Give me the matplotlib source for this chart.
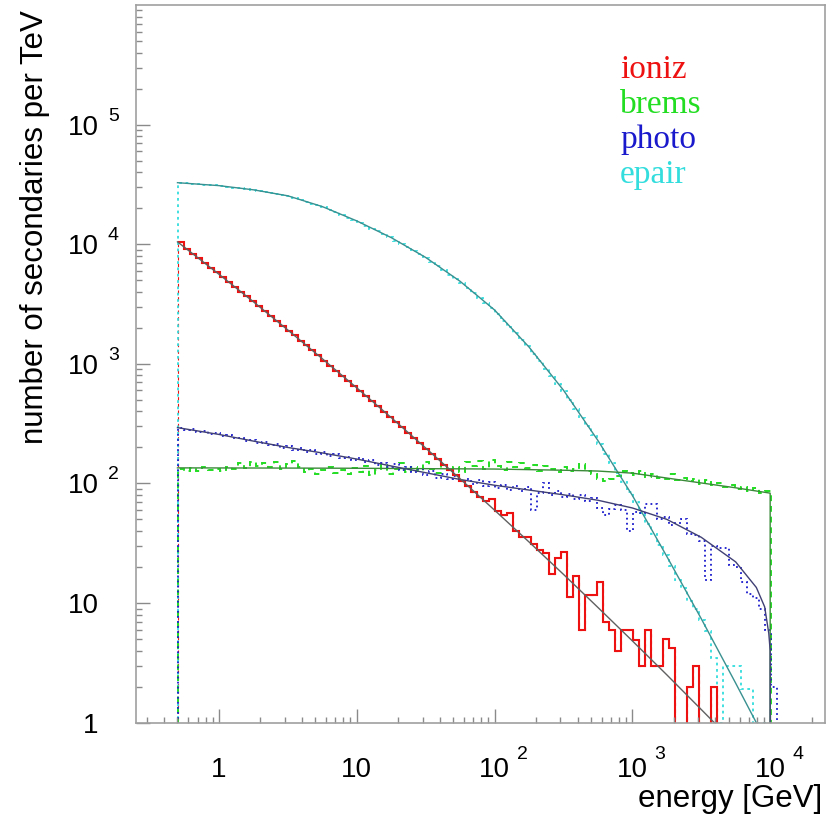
import numpy as np
import matplotlib
matplotlib.use('Agg')
import matplotlib.pyplot as plt
from matplotlib.ticker import FixedLocator, FixedFormatter, LogLocator, NullFormatter

plt.rcParams['font.family'] = ['Liberation Sans', 'DejaVu Sans']

# 100 log bins, 0.5 GeV .. ~11 TeV
bin_edges = np.logspace(-0.30, 4.05, 101)

ioniz = [10500, 9160, 8360, 7650, 6980, 6380, 5810, 5310, 4840, 4420,
         4025, 3670, 3340, 3050, 2770, 2520, 2300, 2090, 1900, 1730,
         1567, 1426, 1294, 1175, 1066, 968, 877, 796, 721, 654,
         592, 537, 485, 440, 397, 360, 325, 294, 266, 240,
         217, 196, 177, 160, 144, 130, 117, 105, 94.9, 85.5,
         76.9, 72, 74, 59, 55, 57, 40, 36, 36, 31,
         28, 26, 17.6, 24, 26.6, 11.2, 17, 5.9, 11.6, 11.6,
         15, 6.9, 5.9, 4.0, 5.9, 5.9, 4.9, 3.0, 5.9, 3.0,
         3.0, 5.0, 4.2, 0, 0, 2.0, 3.0, 0, 0, 2.0,
         0, 0, 0, 0, 0, 0, 0, 0, 0, 0]

brems = [131, 128, 134, 127, 136, 130, 133, 126, 138, 132,
         148, 135, 150, 141, 149, 138, 150, 131, 146, 153,
         137, 124, 133, 121, 129, 136, 122, 130, 119, 134,
         124, 140, 118, 129, 142, 120, 133, 147, 125, 138,
         127, 150, 131, 122, 145, 128, 136, 124, 150, 141,
         155, 133, 158, 140, 129, 152, 137, 148, 134, 143,
         126, 139, 131, 125, 137, 128, 133, 145, 127, 120,
         110, 105, 108, 115, 126, 122, 117, 127, 113, 120,
         112, 108, 119, 106, 111, 104, 110, 99, 106, 97,
         101, 94, 98, 90, 93, 87, 91, 84, 86, 0]

photo = [292, 280, 284, 268, 275, 258, 266, 247, 255, 238,
         240, 226, 233, 218, 222, 208, 215, 198, 206, 192,
         197, 184, 190, 176, 183, 170, 177, 163, 168, 157,
         162, 150, 156, 143, 149, 137, 145, 130, 138, 125,
         131, 118, 126, 112, 121, 108, 116, 104, 109, 99,
         106, 95, 103, 92, 98, 89, 96, 86, 93, 60,
         84, 100, 80, 86, 77, 82, 74, 80, 71, 76,
         62, 55, 61, 66, 60, 40, 58, 57, 68, 68,
         50, 52, 45, 47, 50, 38, 37, 33, 15.5, 30,
         29, 29, 21, 20, 15, 12, 11, 9, 6, 2]

epair = [32600, 32400, 32100, 31800, 31500, 31300, 31000, 30600, 30200, 29800,
         29400, 29000, 28600, 28000, 27500, 26900, 26400, 25900, 25300, 24400,
         23600, 22700, 21900, 21100, 20300, 19300, 18500, 17600, 16700, 16000,
         15100, 14300, 13500, 12800, 12100, 11400, 10700, 10000, 9400, 8790,
         8220, 7690, 7100, 6550, 6040, 5580, 5150, 4730, 4290, 3900,
         3540, 3220, 2920, 2610, 2300, 2040, 1800, 1590, 1400, 1220,
         1050, 912, 789, 684, 589, 499, 421, 356, 301, 254,
         213, 178, 148, 123, 102, 85, 69.7, 56.9, 46.2, 37.8,
         30.8, 25.1, 20.4, 15.5, 13.4, 10.5, 8.85, 7.2, 5.8, 3.5,
         1.0, 3.0, 3.0, 3.0, 1.9, 1.9, 0, 1.0, 0, 0]

# fitted curves
fit_e = [0.5, 1, 1.78, 3.16, 5.62, 10, 17.8, 31.6, 56.2, 100, 178, 316, 562,
         1000, 1780, 3160, 5620, 10000]
fit_epair = [32700, 30900, 28500, 25400, 20650, 15670, 11350, 7760, 4900, 2820,
             1380, 603, 229, 79.4, 24.5, 7.41, 2.14, 0.60]
fit_ioniz = [10470, 5610, 3300, 1919, 1104, 630, 355, 198, 109.5, 59.8,
             32.4, 17.4, 9.2, 4.83, 2.51, 1.29, 0.66, 0.33]

fit_photo_e = [0.5, 1, 1.78, 3.16, 5.62, 10, 17.8, 31.6, 56.2, 100, 178, 316, 562,
               1000, 1780, 3160, 5620, 7940, 9120, 9770, 10000, 10000]
fit_photo = [293, 257, 226, 200, 180, 160, 140, 123, 108, 96.6, 88.1, 80.4, 72.4,
             62.4, 50.1, 35.5, 22.1, 13.5, 9.3, 5.6, 4.0, 1e-3]

fit_brems_e = [0.5, 3.16, 10, 100, 316, 562, 1000, 1780, 3160, 5620, 10000, 10000]
fit_brems = [135, 134.5, 134, 132, 129, 127, 122, 111, 101, 92, 83, 1e-3]

labels = ['ioniz', 'brems', 'photo', 'epair']
hist_colors = ['#ee1111', '#22dd22', '#1a1acc', '#33dddd']

fig = plt.figure(figsize=(8.39, 8.19), dpi=100)
ax = fig.add_axes([136 / 839, 96.3 / 819, 689 / 839, 717.7 / 819])
ax.set_xscale('log')
ax.set_yscale('log')

ax.stairs(ioniz, bin_edges, baseline=0, color=hist_colors[0], lw=0.8, ls=(0, (3, 3)))
ax.stairs(epair, bin_edges, baseline=0, color=hist_colors[3], lw=1.3, ls=(0, (1.5, 2)))
ax.stairs(brems, bin_edges, baseline=0, color=hist_colors[1], lw=1.4, ls=(0, (3, 2.5)))
ax.stairs(photo, bin_edges, baseline=0, color=hist_colors[2], lw=1.3, ls=(0, (1, 1.8)))
ax.stairs(ioniz, bin_edges, baseline=None, color=hist_colors[0], lw=1.5)

ax.plot(fit_e, fit_epair, color='#3a9090', lw=1.0)
ax.plot(fit_brems_e, fit_brems, color='#3a8a3a', lw=1.0)
ax.plot(fit_photo_e, fit_photo, color='#404075', lw=1.0)
ax.plot(fit_e, fit_ioniz, color='#606060', lw=1.0)

ax.set_xlim(0.25, 25000)
ax.set_ylim(1, 1e6)

for s in ax.spines.values():
    s.set_color('#a0a0a0')
    s.set_linewidth(1.2)

ax.xaxis.set_major_locator(FixedLocator([1, 10, 100, 1000, 10000]))
ax.xaxis.set_major_formatter(FixedFormatter(['1', '10', '10', '10', '10']))
ax.yaxis.set_major_locator(FixedLocator([1, 10, 100, 1000, 10000, 100000]))
ax.yaxis.set_major_formatter(FixedFormatter(['1', '10', '10', '10', '10', '10']))
ax.xaxis.set_minor_locator(LogLocator(base=10, subs=range(2, 10), numticks=20))
ax.yaxis.set_minor_locator(LogLocator(base=10, subs=range(2, 10), numticks=20))
ax.xaxis.set_minor_formatter(NullFormatter())
ax.yaxis.set_minor_formatter(NullFormatter())

ax.tick_params(which='both', direction='in', top=False, right=False, color='#8a8a8a', width=1)
ax.tick_params(which='major', length=10, labelsize=20)
ax.tick_params(which='minor', length=4.5)
ax.tick_params(axis='x', which='major', pad=25)
ax.tick_params(axis='y', which='major', pad=27)

# exponents drawn next to the "10" labels
for k in [2, 3, 4]:
    ax.annotate(str(k), xy=(10 ** k, 0), xycoords=('data', 'axes fraction'),
                xytext=(22, -36), textcoords='offset pixels', ha='left', va='baseline',
                fontsize=14)
for k in [2, 3, 4, 5]:
    ax.annotate(str(k), xy=(0, 10 ** k), xycoords=('axes fraction', 'data'),
                xytext=(-28, 4), textcoords='offset pixels', ha='left', va='baseline',
                fontsize=14)

fig.text(35 / 839, 1 - 10 / 819, 'number of secondaries per TeV', rotation=90,
         ha='center', va='top', fontsize=22.5)
fig.text(822 / 839, 1 - 807 / 819, 'energy [GeV]', ha='right', va='baseline', fontsize=22.5)

for j, (lab, c) in enumerate(zip(labels, hist_colors)):
    ax.text(0.7025, 0.8983 - j * 0.0488, lab, transform=ax.transAxes, color=c,
            family='Liberation Serif', fontsize=24, ha='left', va='baseline')

fig.savefig('out.png', dpi=100)
